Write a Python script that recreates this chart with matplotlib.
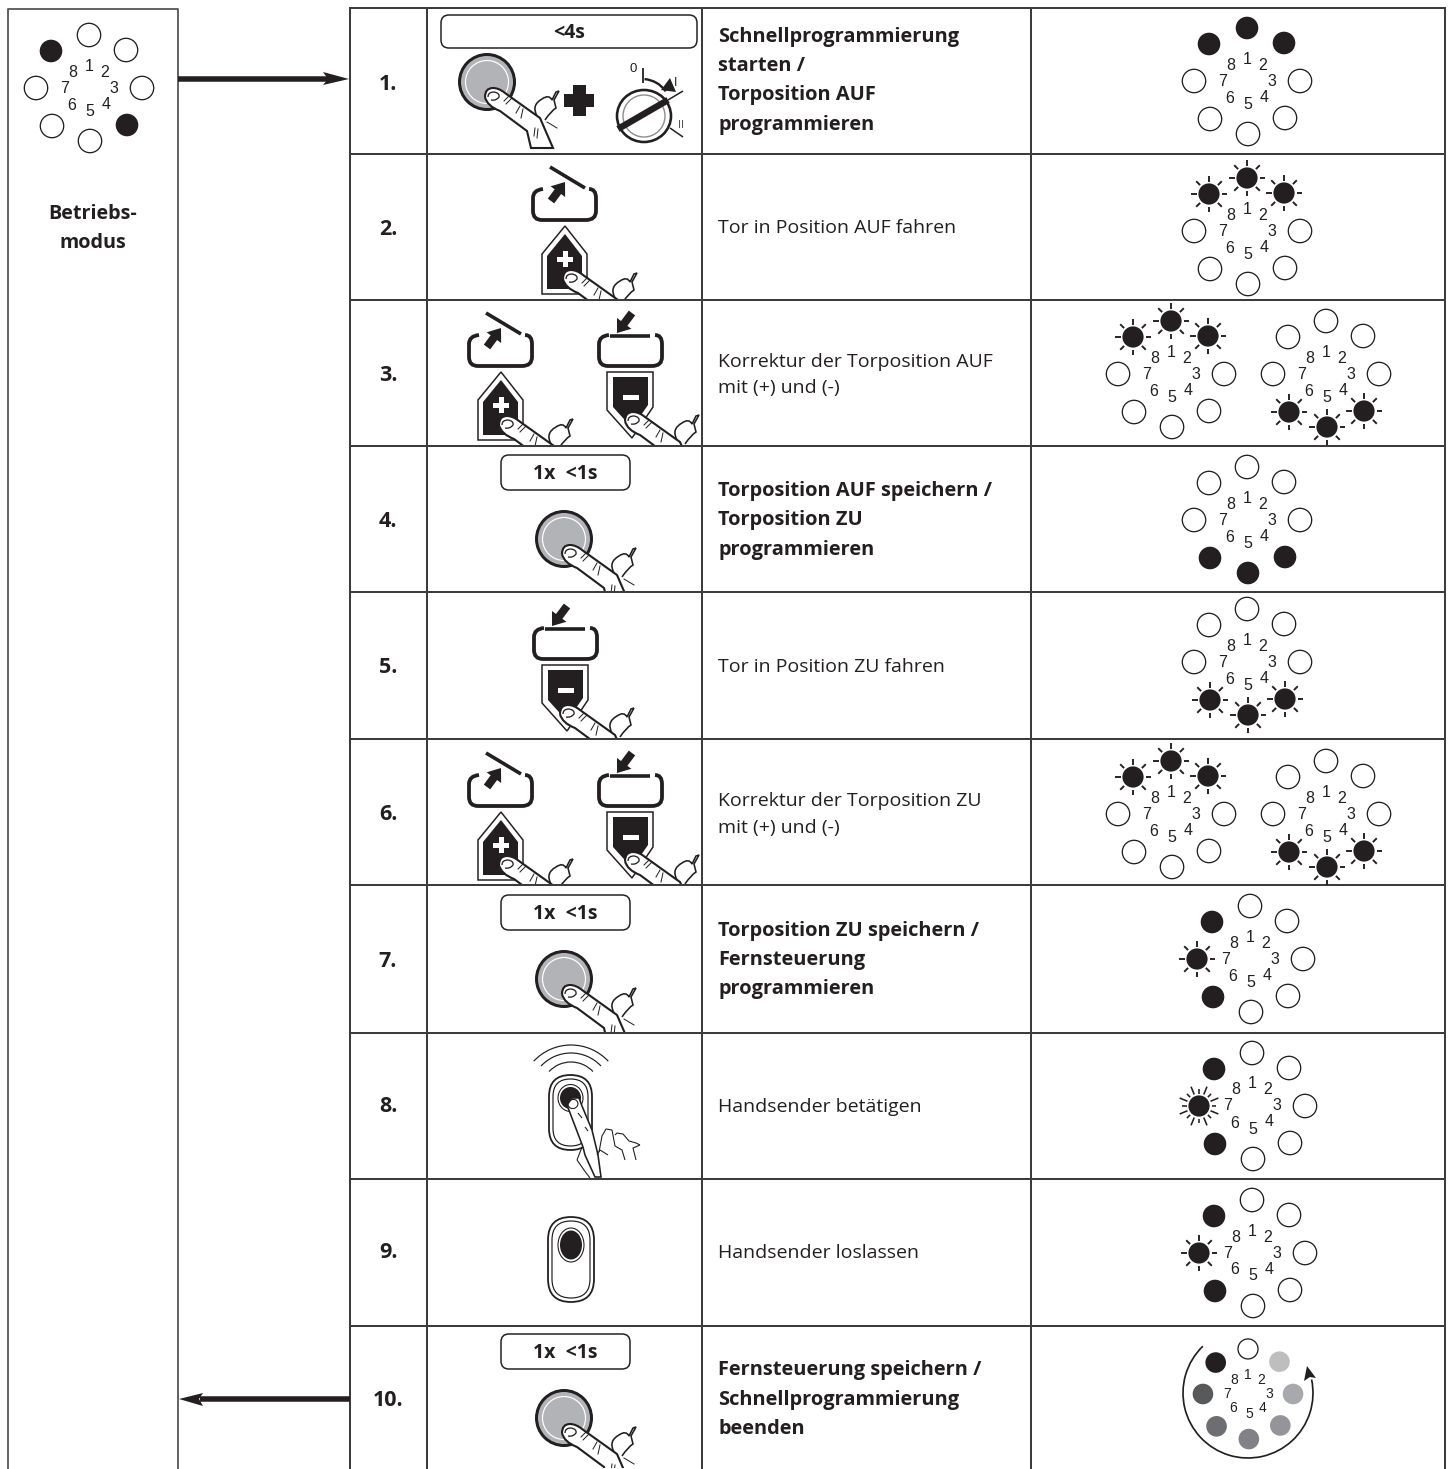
import matplotlib
matplotlib.use('Agg')
import matplotlib.pyplot as plt
from matplotlib.patches import Circle, Ellipse, FancyBboxPatch, Polygon, PathPatch, Rectangle, Arc
from matplotlib.path import Path

plt.rcParams['font.family'] = ['Open Sans', 'DejaVu Sans']

INK = '#231f20'
GRID = '#3c3c3c'
GREY = '#b1b3b6'
PX = 0.72  # 1 px in points at dpi 100

# table layout
COL_X = [350, 427, 702, 1031, 1445]
ROW_Y = [8, 154, 300, 446, 592, 739, 885, 1033, 1179, 1326]
BOX_X = [8, 178]
BOX_TOP = 9

STEP_LABELS = ['1.', '2.', '3.', '4.', '5.', '6.', '7.', '8.', '9.', '10.']
STEP_Y = [82, 227, 373, 519, 665, 812, 959, 1105, 1251, 1398]

# (text, y, bold)
STEP_TEXT = [
    ('Schnellprogrammierung', 35, True), ('starten /', 64, True),
    ('Torposition AUF', 93, True), ('programmieren', 123, True),
    ('Tor in Position AUF fahren', 226, False),
    ('Korrektur der Torposition AUF', 360, False), ('mit (+) und (-)', 386, False),
    ('Torposition AUF speichern /', 489, True), ('Torposition ZU', 518, True),
    ('programmieren', 548, True),
    ('Tor in Position ZU fahren', 665, False),
    ('Korrektur der Torposition ZU', 799, False), ('mit (+) und (-)', 826, False),
    ('Torposition ZU speichern /', 929, True), ('Fernsteuerung', 958, True),
    ('programmieren', 987, True),
    ('Handsender betätigen', 1105, False),
    ('Handsender loslassen', 1251, False),
    ('Fernsteuerung speichern /', 1368, True), ('Schnellprogrammierung', 1398, True),
    ('beenden', 1427, True),
]

# LED rings, states for led 1..8: . off, # on, * flashing, ! fast flashing
RINGS = [
    (89, 88, '...#...#'),
    (1247, 81, '##.....#'),
    (1247, 231, '**.....*'),
    (1171, 374, '**.....*'),
    (1326, 374, '...***..'),
    (1247, 520, '...###..'),
    (1247, 662, '...***..'),
    (1171, 814, '**.....*'),
    (1326, 814, '...***..'),
    (1250, 959, '.....#*#'),
    (1252, 1106, '.....#!#'),
    (1252, 1253, '.....#*#'),
]
LED_DX = [0, 37, 53, 38, 1, -37, -53, -38]
LED_DY = [-53, -38, 0, 37, 53, 38, 0, -37]
NUM_DX = [0, 16, 25, 17, 1, -17, -24, -16]
NUM_DY = [-22, -16, 0, 16, 23, 17, 0, -16]

LAST_RING = (1248, 1394)
LAST_COLORS = ['white', '#bcbec0', '#a7a9ac', '#939598', '#808285', '#6d6e71', '#58595b', INK]

# pills: x0, x1, y0, y1, text
PILLS = [
    (441, 697, 15, 48, '<4s'),
    (501, 630, 455, 490, '1x  <1s'),
    (501, 630, 895, 930, '1x  <1s'),
    (501, 630, 1334, 1369, '1x  <1s'),
]

# icons
BUTTONS = [(487, 82, 1), (564, 539, 4), (564, 979, 7), (564, 1418, 10)]
DOORS_UP = [(564, 220, 2), (500, 366, 3), (500, 806, 6)]
DOORS_DOWN = [(565, 659, 5), (630, 366, 3), (630, 806, 6)]


fig = plt.figure(figsize=(14.51, 14.69), dpi=100)
ax = fig.add_axes([0, 0, 1, 1])
ax.set_xlim(0, 1451)
ax.set_ylim(1469, 0)
ax.axis('off')


def line(xs, ys, lw=2.0, color=INK, z=3, cap='butt'):
    ax.plot(xs, ys, color=color, lw=lw * PX, zorder=z, solid_capstyle=cap, solid_joinstyle='round')


def draw_ring(cx, cy, states):
    for i, s in enumerate(states):
        x = cx + LED_DX[i]
        y = cy + LED_DY[i]
        if s == '.':
            ax.add_patch(Circle((x, y), 11.7, fc='white', ec=INK, lw=1.3 * PX, zorder=4))
        else:
            ax.add_patch(Circle((x, y), 11.3 if s == '#' else 10.6, fc=INK, ec='none', zorder=4))
        if s == '*':
            for dx, dy in [(1, 0), (.71, .71), (0, 1), (-.71, .71), (-1, 0), (-.71, -.71), (0, -1), (.71, -.71)]:
                line([x + 12.5 * dx, x + 18 * dx], [y + 12.5 * dy, y + 18 * dy], lw=1.9, z=4)
        if s == '!':
            rays = [(1, 0), (.92, .38), (.71, .71), (.38, .92), (0, 1), (-.38, .92), (-.71, .71), (-.92, .38),
                    (-1, 0), (-.92, -.38), (-.71, -.71), (-.38, -.92), (0, -1), (.38, -.92), (.71, -.71), (.92, -.38)]
            for k, (dx, dy) in enumerate(rays):
                r1 = 17 if k % 2 == 0 else 21
                line([x + 12.5 * dx, x + r1 * dx], [y + 12.5 * dy, y + r1 * dy], lw=1.6, z=4)
        ax.text(cx + NUM_DX[i], cy + NUM_DY[i], str(i + 1), family='Liberation Sans', fontsize=11.5,
                color=INK, ha='center', va='center', zorder=5)


def draw_last_ring(cx, cy):
    scale = 0.85
    for i, c in enumerate(LAST_COLORS):
        x = cx + LED_DX[i] * scale
        y = cy + LED_DY[i] * scale
        if i == 0:
            ax.add_patch(Circle((x, y), 10, fc='white', ec=INK, lw=1.3 * PX, zorder=4))
        else:
            ax.add_patch(Circle((x, y), 10.3, fc=c, ec='none', zorder=4))
        ax.text(cx + NUM_DX[i] * scale, cy + NUM_DY[i] * scale, str(i + 1), family='Liberation Sans',
                fontsize=10, color=INK, ha='center', va='center', zorder=5)
    ax.add_patch(Arc((cx, cy - 1), 130, 130, theta1=-12, theta2=226, ec=INK, lw=1.7 * PX, zorder=4))
    ax.add_patch(Polygon([(1307, 1366), (1304, 1381), (1310, 1377), (1316, 1378)], fc=INK, ec='none', zorder=4))


def clip_row(artist, row):
    y1 = ROW_Y[row] if row < len(ROW_Y) else 1469
    artist.set_clip_path(Rectangle((COL_X[1], ROW_Y[row - 1]), COL_X[2] - COL_X[1], y1 - ROW_Y[row - 1] - 1,
                                   transform=ax.transData))


def draw_finger(x, y, row):
    # x, y is the left end of the finger tip
    M, L, C = Path.MOVETO, Path.LINETO, Path.CURVE3
    pts = [(0, 3), (0, -6), (8, -6), (14, -6), (20, -1), (55, 24), (68, 54), (46, 54), (42, 37), (15, 17), (2, 12), (0, 3)]
    codes = [M, C, C, C, C, L, L, L, L, L, C, C]
    parts = [PathPatch(Path([(x + a, y + b) for a, b in pts], codes), fc='white', ec=INK, lw=2.1 * PX, zorder=6)]
    nail = [(3, 3), (3, -2), (9, -2), (15, -1), (14, 3), (11, 7), (6, 6)]
    parts.append(PathPatch(Path([(x + a, y + b) for a, b in nail], [M, C, C, C, C, C, C]),
                           fc='none', ec=INK, lw=1.3 * PX, zorder=7))
    thumb = [(52, 22), (46, 11), (57, 5), (64, 0), (67, 6), (71, -2), (74, -3), (69, 6), (71, 14), (66, 17), (60, 26)]
    parts.append(PathPatch(Path([(x + a, y + b) for a, b in thumb], [M, C, C, C, C, L, L, L, L, C, C]),
                           fc='white', ec=INK, lw=1.6 * PX, zorder=5))
    for a0, b0, a1, b1 in [(19, 7, 24, 2), (21, 10, 27, 4), (31, 19, 35, 12), (36, 24, 38, 15), (50, 34, 49, 42),
                           (53, 35, 52, 44), (62, 28, 72, 34)]:
        parts += ax.plot([x + a0, x + a1], [y + b0, y + b1], color=INK, lw=1.0 * PX, zorder=7)
    for p in parts:
        if not p.axes:
            ax.add_patch(p)
        clip_row(p, row)


def draw_button(cx, cy, row):
    ax.add_patch(Circle((cx, cy), 27.5, fc=GREY, ec=INK, lw=3 * PX, zorder=4))
    ax.add_patch(Circle((cx, cy), 21.5, fc=GREY, ec='white', lw=1.2 * PX, zorder=4))
    draw_finger(cx - 2, cy + 12, row)


def draw_bracket(cx, by):
    M, L, C = Path.MOVETO, Path.LINETO, Path.CURVE3
    pts = [(-21, -31), (-31, -30), (-31, -22), (-31, -9), (-31, 0), (-22, 0), (22, 0), (32, 0), (32, -9), (32, -22),
           (32, -31), (25, -31)]
    codes = [M, C, C, L, C, C, L, C, C, L, C, C]
    ax.add_patch(PathPatch(Path([(cx + a, by + b) for a, b in pts], codes), fc='none', ec=INK, lw=3.8 * PX, zorder=4))


def draw_arrow(x0, y0, x1, y1):
    ux, uy = x1 - x0, y1 - y0
    n = (ux ** 2 + uy ** 2) ** .5
    ux, uy = ux / n, uy / n
    vx, vy = -uy, ux
    bx, by = x1 - 12 * ux, y1 - 12 * uy
    ax.add_patch(Polygon([(x1, y1), (bx + 9 * vx, by + 9 * vy), (bx + 4 * vx, by + 4 * vy), (x0 + 4 * vx, y0 + 4 * vy),
                          (x0 - 4 * vx, y0 - 4 * vy), (bx - 4 * vx, by - 4 * vy), (bx - 9 * vx, by - 9 * vy)],
                         fc=INK, ec='none', zorder=5))


def draw_door_up(cx, by, row):
    draw_bracket(cx, by)
    line([cx - 14, cx + 21], [by - 53, by - 32], lw=3.6)
    draw_arrow(cx - 13, by - 19, cx + 1, by - 38)
    # plus tag
    ty = by + 6
    ax.add_patch(Polygon([(cx + 1, ty), (cx + 23, ty + 28), (cx + 23, ty + 68), (cx - 22, ty + 68), (cx - 22, ty + 28)],
                         fc='white', ec=INK, lw=1.5 * PX, zorder=4))
    ax.add_patch(Polygon([(cx + 1, ty + 8), (cx + 18, ty + 30), (cx + 18, ty + 63), (cx - 17, ty + 63), (cx - 17, ty + 30)],
                         fc=INK, ec='none', zorder=4))
    ax.add_patch(Rectangle((cx - 7, ty + 30.5), 16, 5, fc='white', ec='none', zorder=5))
    ax.add_patch(Rectangle((cx - 1.5, ty + 25), 5, 16, fc='white', ec='none', zorder=5))
    draw_finger(cx - 1, ty + 50, row)


def draw_door_down(cx, by, row):
    draw_bracket(cx, by)
    line([cx - 20, cx + 20], [by - 30, by - 30], lw=3.6)
    draw_arrow(cx + 2, by - 53, cx - 13, by - 33)
    # minus tag
    ty = by + 6
    ax.add_patch(Polygon([(cx - 23, ty), (cx + 23, ty), (cx + 23, ty + 35), (cx + 2, ty + 66), (cx - 23, ty + 38)],
                         fc='white', ec=INK, lw=1.5 * PX, zorder=4))
    ax.add_patch(Polygon([(cx - 17, ty + 5), (cx + 18, ty + 5), (cx + 18, ty + 33), (cx + 2, ty + 56), (cx - 17, ty + 35)],
                         fc=INK, ec='none', zorder=4))
    ax.add_patch(Rectangle((cx - 7, ty + 23), 16, 5, fc='white', ec='none', zorder=5))
    draw_finger(cx - 5, ty + 46, row)


def draw_remote(cx, y0, y1, hw, ink_y, ink_r, ring_ry):
    ax.add_patch(FancyBboxPatch((cx, y0 + hw), 0, y1 - y0 - 2 * hw, boxstyle='round,pad=%g' % hw,
                                fc='white', ec=INK, lw=1.8 * PX, zorder=4))
    ax.add_patch(FancyBboxPatch((cx, y0 + hw), 0, y1 - y0 - 2 * hw, boxstyle='round,pad=%g' % (hw - 4),
                                fc='white', ec=INK, lw=1.2 * PX, zorder=4))
    ax.add_patch(Ellipse((cx, ink_y), 2 * ink_r + 4, 2 * ring_ry, fc='white', ec=INK, lw=1.1 * PX, zorder=4))
    ax.add_patch(Ellipse((cx, ink_y), 2 * ink_r, 2 * ring_ry - 5, fc=INK, ec='none', zorder=4))


# grid of the table
for x in COL_X:
    line([x, x], [ROW_Y[0] - 1, 1469], lw=2.0, color=GRID)
for y in ROW_Y:
    line([COL_X[0], COL_X[-1]], [y, y], lw=2.0, color=GRID)
line([BOX_X[0], BOX_X[0], BOX_X[1], BOX_X[1]], [1469, BOX_TOP, BOX_TOP, 1469], lw=1.8, color='#555555')

# arrows left <-> table
line([178, 330], [79, 79], lw=5.5)
ax.add_patch(Polygon([(349, 79), (323, 72), (328, 79), (323, 85)], fc=INK, ec='none', zorder=4))
line([200, 350], [1399, 1399], lw=5.5)
ax.add_patch(Polygon([(179, 1399), (203, 1393), (199, 1399), (203, 1406)], fc=INK, ec='none', zorder=4))

# texts
for lab, y in zip(STEP_LABELS, STEP_Y):
    ax.text(388, y + 2, lab, fontsize=15.5, fontweight='bold', color=INK, ha='center', va='center')
for txt, y, bold in STEP_TEXT:
    ax.text(718, y + 2, txt, fontsize=14.4 if bold else 14.0, fontweight='bold' if bold else 'normal',
            color=INK, ha='left', va='center')
ax.text(93, 214, 'Betriebs-', fontsize=14.2, fontweight='bold', color=INK, ha='center', va='center')
ax.text(93, 243, 'modus', fontsize=14.2, fontweight='bold', color=INK, ha='center', va='center')

# LEDs
for cx, cy, states in RINGS:
    draw_ring(cx, cy, states)
draw_last_ring(*LAST_RING)

# pills
for x0, x1, y0, y1, txt in PILLS:
    ax.add_patch(FancyBboxPatch((x0 + 8, y0 + 8), x1 - x0 - 16, y1 - y0 - 16, boxstyle='round,pad=8',
                                fc='white', ec=INK, lw=1.5 * PX, zorder=4))
    ax.text((x0 + x1) / 2, (y0 + y1) / 2 + 1, txt, fontsize=14, fontweight='bold', color=INK,
            ha='center', va='center', zorder=5)

# icons
for cx, cy, row in BUTTONS:
    draw_button(cx, cy, row)
for cx, by, row in DOORS_UP:
    draw_door_up(cx, by, row)
for cx, by, row in DOORS_DOWN:
    draw_door_down(cx, by, row)

# step 1: plus sign and key switch
ax.add_patch(Rectangle((564, 94), 30, 13, fc=INK, ec='none', zorder=4))
ax.add_patch(Rectangle((572.5, 85), 13, 31, fc=INK, ec='none', zorder=4))
ax.add_patch(Ellipse((644, 116), 54, 52, fc='white', ec=INK, lw=2.6 * PX, zorder=4))
ax.add_patch(Ellipse((644, 116), 42, 42, fc='white', ec='#8a8c8e', lw=1.4 * PX, zorder=4))
line([618, 668], [129, 100], lw=6.5, z=5)
line([668, 683], [100, 91], lw=1.5)
line([670, 683], [128, 137], lw=1.5)
line([643, 643], [68, 83], lw=1.8)
ax.text(633, 69, '0', family='Liberation Sans', fontsize=9.5, color=INK, ha='center', va='center')
ax.text(676, 83, 'I', family='Liberation Sans', fontsize=9, color=INK, ha='center', va='center')
ax.text(681, 125, 'II', family='Liberation Sans', fontsize=8, color='#555555', ha='center', va='center')
ax.add_patch(Arc((642, 108), 58, 58, theta1=-85, theta2=-35, ec=INK, lw=2.4 * PX, zorder=4))
ax.add_patch(Polygon([(676, 92), (661, 90), (670, 78)], fc=INK, ec='none', zorder=4))

# step 8: remote with hand and radio waves
for cy, r in [(1096, 51), (1094, 41), (1092, 30)]:
    ax.add_patch(Arc((571, cy), 2 * r, 2 * r, theta1=223, theta2=317, ec=INK, lw=1.2 * PX, zorder=4))
draw_remote(570.5, 1075, 1150, 21.5, 1098, 10.5, 13.5)
hand = [(567, 1105), (583, 1147), (585, 1155), (595, 1177), (601, 1177), (598, 1155), (592, 1130), (582, 1106),
        (579, 1098), (572, 1098)]
ax.add_patch(Polygon(hand, closed=True, fc='white', ec=INK, lw=1.6 * PX, zorder=6))
ax.add_patch(Ellipse((573, 1104), 10, 9, angle=-20, fc='none', ec=INK, lw=1.1 * PX, zorder=7))
for xs, ys in [([599, 602, 606, 612, 615], [1152, 1136, 1129, 1130, 1146]),
               ([615, 617, 623, 629, 636, 640], [1135, 1133, 1134, 1141, 1143, 1145]),
               ([640, 633, 636], [1145, 1148, 1160]),
               ([615, 622, 625], [1146, 1150, 1160]),
               ([597, 600, 608], [1155, 1150, 1155]),
               ([578, 582], [1113, 1118]), ([585, 588], [1127, 1131]),
               ([582, 577], [1147, 1160]), ([577, 584, 590], [1160, 1170, 1178])]:
    line(xs, ys, lw=1.1, z=6)

# step 9: remote
draw_remote(571, 1217, 1302, 23, 1245, 11, 17)

fig.savefig('out.png', dpi=100)
